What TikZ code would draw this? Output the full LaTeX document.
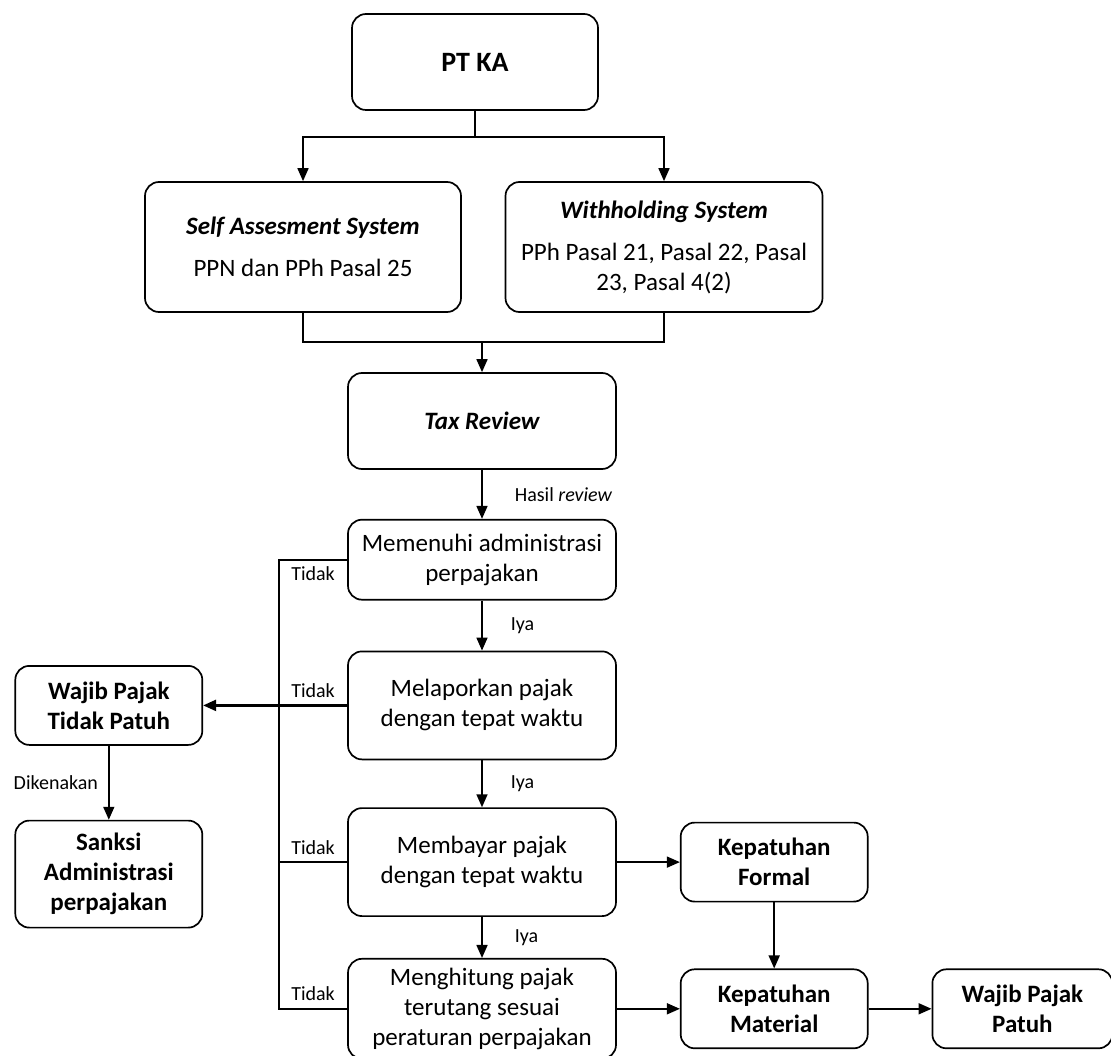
\documentclass[tikz,border=0pt]{standalone}
\usepackage{fontspec}
\setmainfont{Carlito}
\usetikzlibrary{arrows.meta,positioning}

\begin{document}
\begin{tikzpicture}[x=1pt,y=-1pt,line width=1.7pt,
    box/.style={draw, rounded corners=14pt, align=center, inner sep=3pt, minimum width=268pt, font=\fontsize{25}{30}\selectfont},
    sidebox/.style={box, minimum width=187pt, minimum height=79pt, font=\fontsize{25}{30}\selectfont\bfseries},
    arr/.style={-{Triangle[length=13pt,width=11pt]}},
    lbl/.style={font=\fontsize{20}{24}\selectfont, inner sep=2pt}]
    \useasboundingbox (0,0) rectangle (1111,1056);

    % Top
    \node[box, minimum width=246pt, minimum height=96pt, font=\fontsize{28}{32}\selectfont\bfseries] (ptka) at (475,62) {PT KA};
    \node[box, minimum width=316pt, minimum height=130pt] (self) at (303,247) {\textbf{\textit{Self Assesment System}}\\[12pt] PPN dan PPh Pasal 25};
    \node[box, minimum width=317pt, minimum height=130pt] (withhold) at (664,247) {\textbf{\textit{Withholding System}}\\[12pt] PPh Pasal 21, Pasal 22, Pasal\\ 23, Pasal 4(2)};
    \node[box, minimum height=96pt, font=\fontsize{25}{30}\selectfont\bfseries\itshape] (tax) at (482,421) {Tax Review};

    % Checks
    \node[box, minimum height=80pt, below=49pt of tax] (admin) {Memenuhi administrasi\\perpajakan};
    \node[box, minimum height=108pt, below=50pt of admin] (lapor) {Melaporkan pajak\\dengan tepat waktu};
    \node[box, minimum height=108pt, below=47pt of lapor] (bayar) {Membayar pajak\\dengan tepat waktu};
    \node[box, minimum height=100pt, below=41pt of bayar] (hitung) {Menghitung pajak\\terutang sesuai\\peraturan perpajakan};

    % Results
    \node[sidebox, left=144pt of lapor] (tidakpatuh) {Wajib Pajak\\Tidak Patuh};
    \node[sidebox, minimum height=107pt, below=74pt of tidakpatuh] (sanksi) {Sanksi\\Administrasi\\perpajakan};
    \node[sidebox, right=63pt of bayar] (formal) {Kepatuhan\\Formal};
    \node[sidebox, right=63pt of hitung] (material) {Kepatuhan\\Material};
    \node[sidebox, minimum width=180pt, right=63pt of material] (patuh) {Wajib Pajak\\Patuh};

    \coordinate (spine) at (279,0);

    % Arrows
    \draw[arr] (ptka.south) -- ++(0,26) -| (self.north);
    \draw[arr] (ptka.south) -- ++(0,26) -| (withhold.north);
    \draw (self.south) -- ++(0,29) coordinate (merge) -| (withhold.south);
    \draw[arr] (merge -| tax.north) -- (tax.north);
    \draw[arr] (tax) -- node[lbl, right=30pt] {Hasil \textit{review}} (admin);
    \draw[arr] (admin) -- node[lbl, right=26pt] {Iya} (lapor);
    \draw[arr] (lapor) -- node[lbl, right=26pt] {Iya} (bayar);
    \draw[arr] (bayar) -- node[lbl, right=30pt] {Iya} (hitung);

    \draw (admin.west) -- node[lbl, below=4pt] {Tidak} (admin.west -| spine) -- (hitung.west -| spine) -- node[lbl, above=5pt] {Tidak} (hitung.west);
    \draw (bayar.west) -- node[lbl, above=5pt] {Tidak} (bayar.west -| spine);
    \draw[arr, line width=2.4pt] (lapor.west) -- node[lbl, above=5pt] {Tidak} (lapor.west -| spine) -- (tidakpatuh.east);
    \draw[arr] (tidakpatuh) -- node[lbl, left=8pt] {Dikenakan} (sanksi);

    \draw[arr] (bayar) -- (formal);
    \draw[arr] (formal) -- (material);
    \draw[arr] (hitung) -- (material);
    \draw[arr] (material) -- (patuh);
\end{tikzpicture}
\end{document}
